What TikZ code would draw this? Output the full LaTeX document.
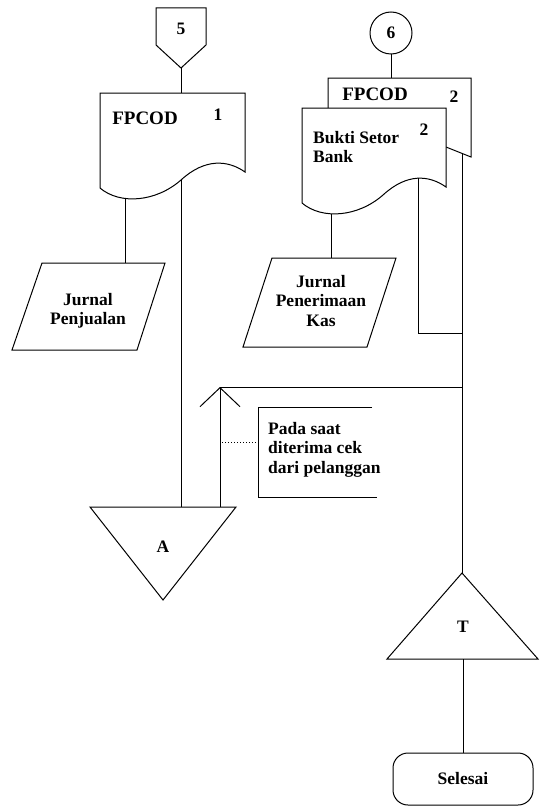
\documentclass[tikz,border=0pt]{standalone}
\usepackage{fontspec}
\setmainfont{Liberation Serif}
\usepackage{tikz}
\usetikzlibrary{positioning,calc,arrows.meta}

\tikzset{
  garis/.style={draw=black, line width=1pt},
  teks/.style={font=\bfseries\fontsize{17.5}{19.5}\selectfont, inner sep=0pt},
  judul/.style={font=\bfseries\fontsize{19}{21}\selectfont, inner sep=0pt},
}

\begin{document}
\begin{tikzpicture}[x=1pt,y=-1pt]
\useasboundingbox (0,0) rectangle (539,808);

% penghubung 5 dan 6
\draw[garis] (156,8) -- (206,8) -- (206,45) -- (181,68) -- (156,45) -- cycle;
\node[teks] (c5) at (181,29) {5};
\coordinate (c5out) at (181,68);
\node[teks, shape=circle, draw=black, line width=1pt, minimum size=42pt] (c6) at (391,33) {6};

% FPCOD 1
\draw[garis, fill=white] (100,93) -- (245,93) -- (245,172) .. controls (228,160) and (205,158) .. (181,180) .. controls (156,202) and (120,205) .. (100,188) -- cycle;
\node[judul] (fp1) at (145,118) {FPCOD};
\node[teks] (fp1no) at (218,115) {1};
\coordinate (fp1in) at (181,93);
\coordinate (fp1a) at (125,199);
\coordinate (fp1b) at (181,180);

% FPCOD 2 dan Bukti Setor Bank
\draw[garis] (328,108) -- (328,78) -- (471,78) -- (471,157) -- (446,147);
\node[judul] (fp2) at (375,94) {FPCOD};
\node[teks] (fp2no) at (454,97) {2};
\coordinate (fp2in) at (391,78);
\coordinate (fp2out) at (462,154);
\draw[garis, fill=white] (302,108) -- (446,108) -- (446,187) .. controls (429,175) and (407,173) .. (383,195) .. controls (358,217) and (322,220) .. (302,203) -- cycle;
\node[teks, align=left, anchor=north west] (bsb) at (313,131) {Bukti Setor\\Bank};
\node[teks] (bsbno) at (424,130) {2};
\coordinate (bsba) at (331,214);
\coordinate (bsbb) at (418,178);
\coordinate (bsbsiku) at (418,333);
\coordinate (bsbgabung) at (462,333);

% jurnal
\draw[garis] (42,263) -- (165,263) -- (137,350) -- (12,350) -- cycle;
\node[teks, align=center] (jpj) at (88,311) {Jurnal\\Penjualan};
\coordinate (jpjin) at (125,263);
\draw[garis] (272,258) -- (396,258) -- (367,347) -- (243,347) -- cycle;
\node[teks, align=center] (jpk) at (321,301) {Jurnal\\Penerimaan\\Kas};
\coordinate (jpkin) at (331,258);

% keterangan
\draw[garis] (372,407) -- (258,407) -- (258,497) -- (377,497);
\node[teks, align=left, anchor=north west] (pada) at (268,422) {Pada saat\\diterima cek\\dari pelanggan};
\coordinate (padakiri) at (258,442);
\coordinate (titik) at (222,442);

% arsip A dan T
\draw[garis] (90,507) -- (236,507) -- (163,600) -- cycle;
\node[teks] (cA) at (163,547) {A};
\coordinate (Ain1) at (181,507);
\coordinate (Ain2) at (220,507);
\coordinate (sudut) at (220,387);
\coordinate (tgabung) at (462,387);

\draw[garis] (462,573) -- (538,659) -- (387,659) -- cycle;
\node[teks] (cT) at (463,627) {T};
\coordinate (Tin) at (462,573);
\coordinate (Tout) at (463,659);

\node[teks, draw=black, line width=1pt, rounded corners=15pt, minimum width=140pt, minimum height=52pt] (selesai) at (463,779) {Selesai};

\draw[garis] (c5out) -- (fp1in);
\draw[garis] (c6.south) -- (fp2in);
\draw[garis] (fp1a) -- (jpjin);
\draw[garis] (fp1b) -- (Ain1);
\draw[garis] (bsba) -- (jpkin);
\draw[garis] (bsbb) -- (bsbsiku) -- (bsbgabung);
\draw[garis] (fp2out) -- (Tin);
\draw[garis, -{Straight Barb[length=19pt, width=40pt]}] (Ain2) -- (sudut);
\draw[garis] (sudut) -- (tgabung);
\draw[garis, dotted] (titik) -- (padakiri);
\draw[garis] (Tout) -- (selesai.north);
\end{tikzpicture}
\end{document}
